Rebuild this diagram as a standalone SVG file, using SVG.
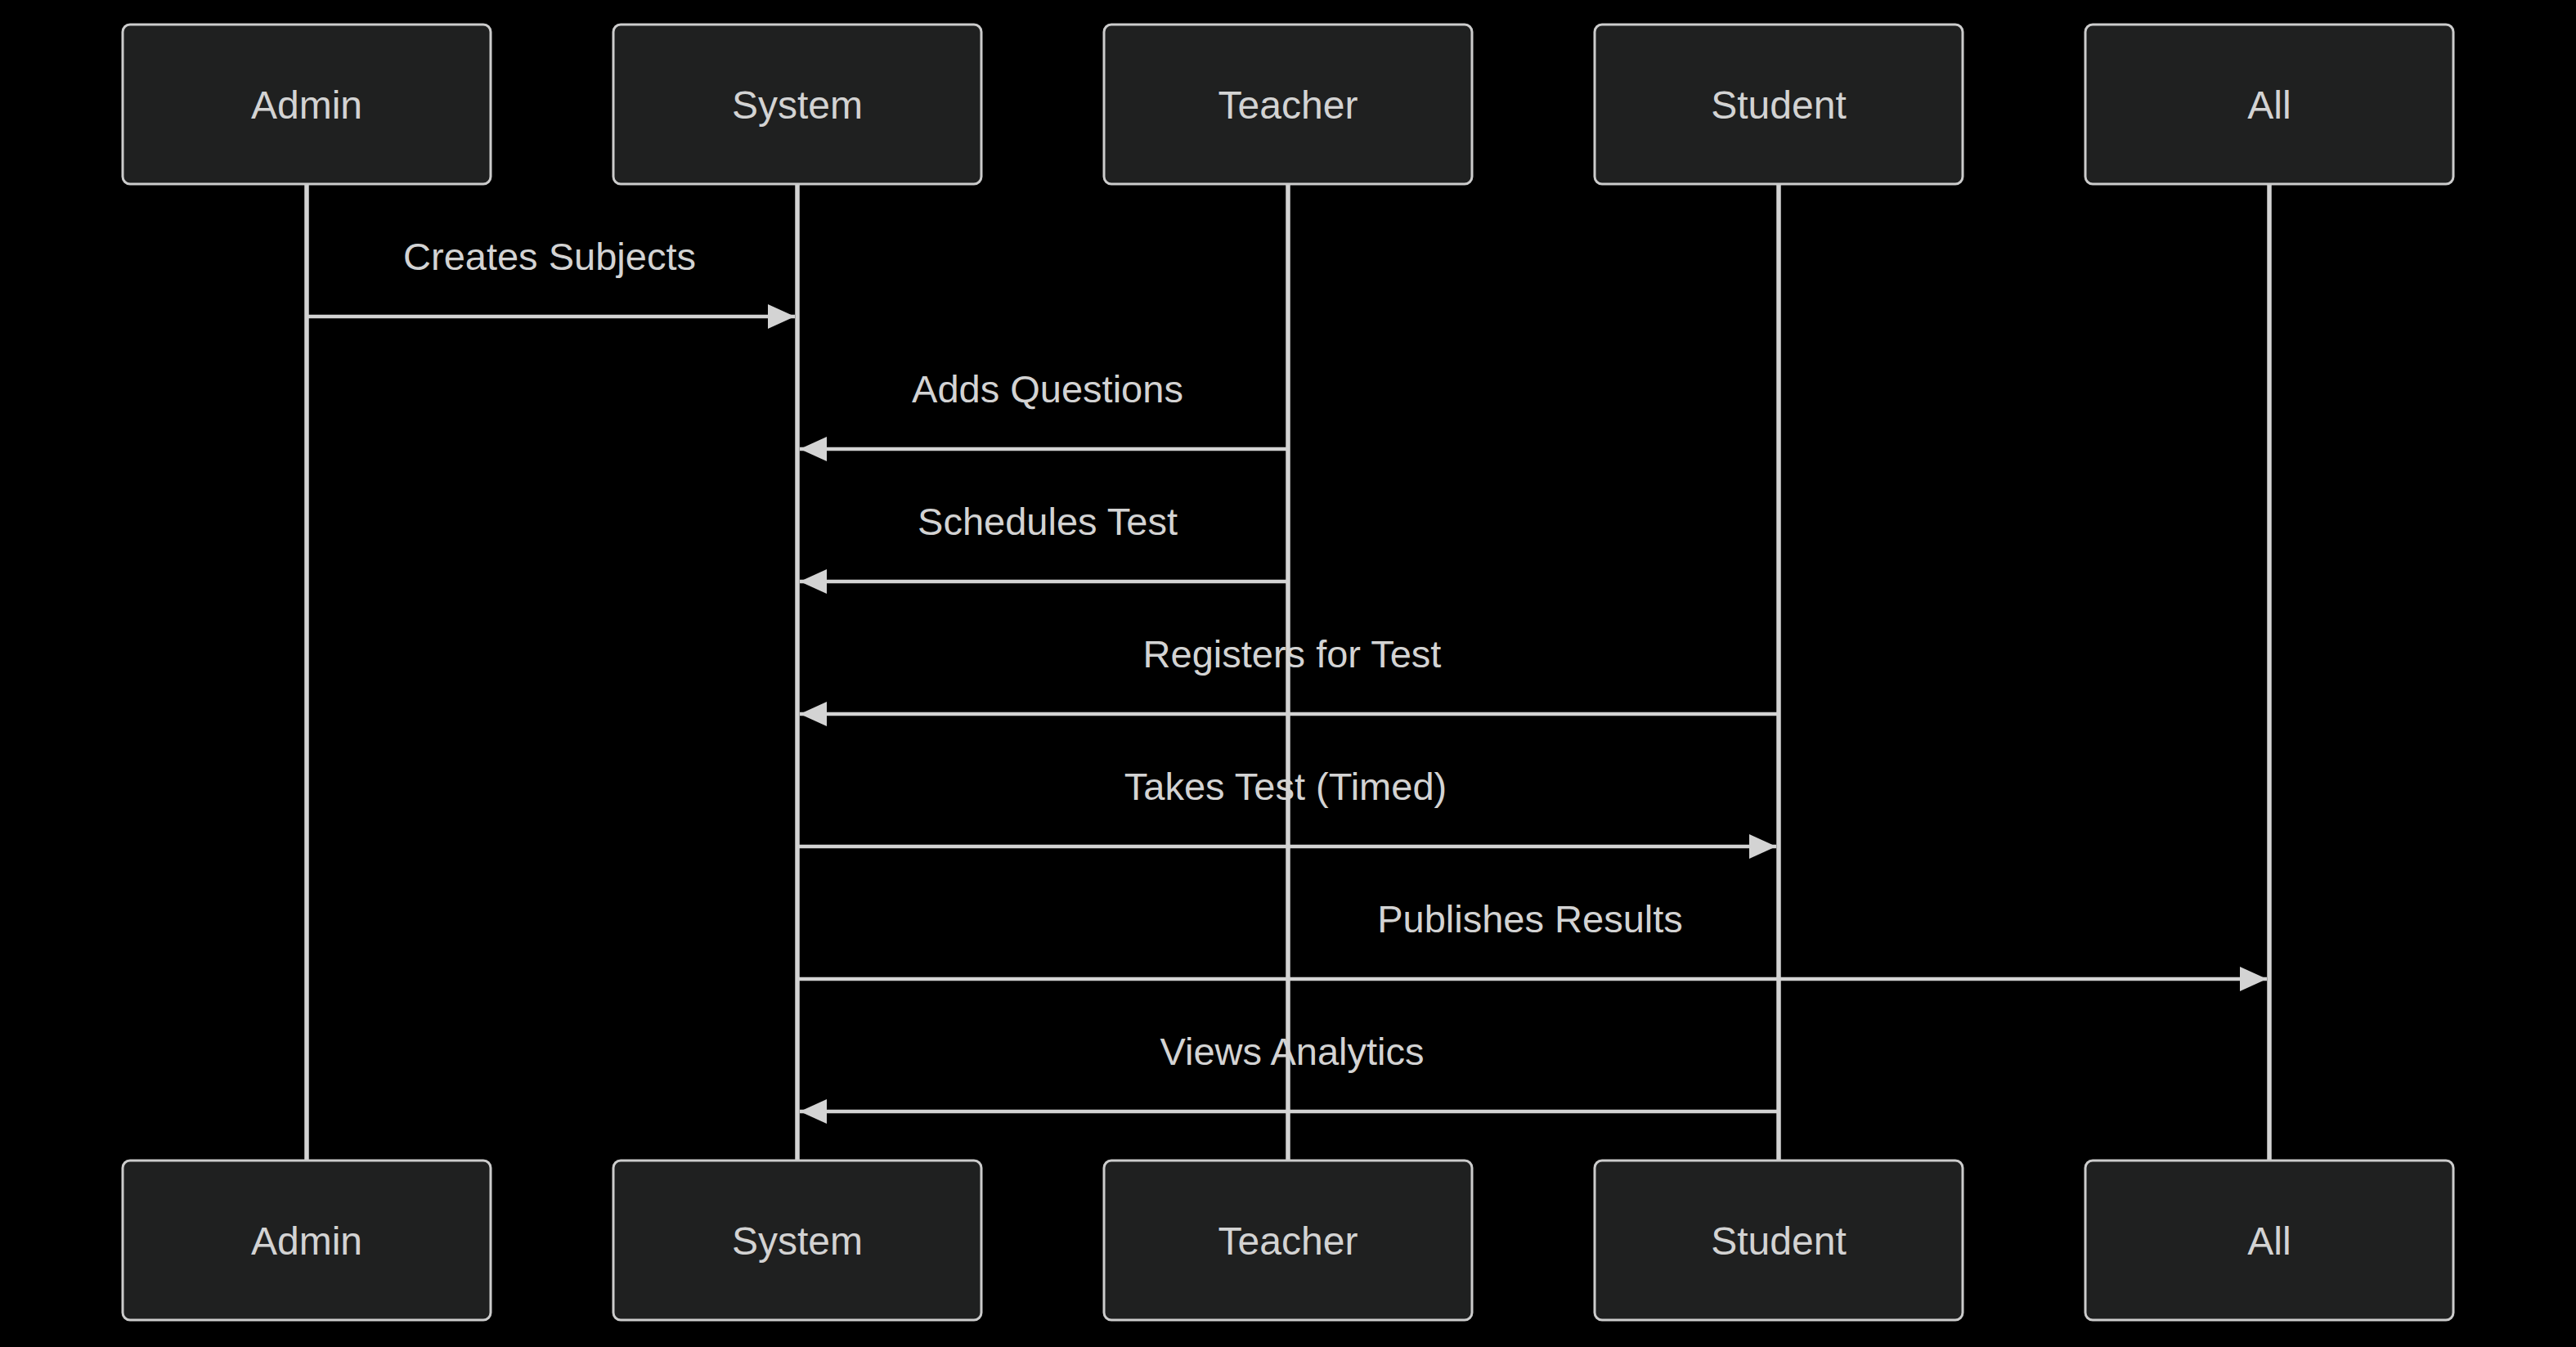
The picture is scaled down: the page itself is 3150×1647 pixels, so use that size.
<svg xmlns="http://www.w3.org/2000/svg" width="3150" height="1647" viewBox="0 0 3150 1647">
<style>
.actor rect{fill:#1f2020;stroke:#cccccc;stroke-width:3}
.actor text{fill:#d3d3d3;font-family:"Liberation Sans",Arial,sans-serif;font-size:48px;text-anchor:middle}
.lifeline{stroke:#d3d3d3;stroke-width:5.5}
.msg{stroke:#d3d3d3;stroke-width:4.5;fill:none;marker-end:url(#arrow)}
.msgtext{fill:#d3d3d3;font-family:"Liberation Sans",Arial,sans-serif;font-size:47px;text-anchor:middle}
</style>
<defs>
<marker id="arrow" viewBox="-1 0 11 10" refX="10" refY="5" markerWidth="33" markerHeight="30" markerUnits="userSpaceOnUse" orient="auto" preserveAspectRatio="none">
<path d="M -1 0 L 10 5 L -1 10 z" fill="#d3d3d3"/>
</marker>
</defs>
<rect x="0" y="0" width="3150" height="1647" fill="#000000"/>
<g id="messages">
<text class="msgtext" x="672" y="330">Creates Subjects</text>
<line class="msg" x1="375" y1="387" x2="972" y2="387"/>
<text class="msgtext" x="1281" y="492">Adds Questions</text>
<line class="msg" x1="1575" y1="549" x2="978" y2="549"/>
<text class="msgtext" x="1281" y="654">Schedules Test</text>
<line class="msg" x1="1575" y1="711" x2="978" y2="711"/>
<text class="msgtext" x="1580" y="816">Registers for Test</text>
<line class="msg" x1="2175" y1="873" x2="978" y2="873"/>
<text class="msgtext" x="1572" y="978">Takes Test (Timed)</text>
<line class="msg" x1="975" y1="1035" x2="2172" y2="1035"/>
<text class="msgtext" x="1871" y="1140">Publishes Results</text>
<line class="msg" x1="975" y1="1197" x2="2772" y2="1197"/>
<text class="msgtext" x="1580" y="1302">Views Analytics</text>
<line class="msg" x1="2175" y1="1359" x2="978" y2="1359"/>
</g>
<g id="lifelines">
<line class="lifeline" x1="375" y1="225" x2="375" y2="1419"/>
<line class="lifeline" x1="975" y1="225" x2="975" y2="1419"/>
<line class="lifeline" x1="1575" y1="225" x2="1575" y2="1419"/>
<line class="lifeline" x1="2175" y1="225" x2="2175" y2="1419"/>
<line class="lifeline" x1="2775" y1="225" x2="2775" y2="1419"/>
</g>
<g id="admin-top" class="actor"><rect x="150" y="30" width="450" height="195" rx="9" ry="9"/><text x="375" y="145">Admin</text></g>
<g id="system-top" class="actor"><rect x="750" y="30" width="450" height="195" rx="9" ry="9"/><text x="975" y="145">System</text></g>
<g id="teacher-top" class="actor"><rect x="1350" y="30" width="450" height="195" rx="9" ry="9"/><text x="1575" y="145">Teacher</text></g>
<g id="student-top" class="actor"><rect x="1950" y="30" width="450" height="195" rx="9" ry="9"/><text x="2175" y="145">Student</text></g>
<g id="all-top" class="actor"><rect x="2550" y="30" width="450" height="195" rx="9" ry="9"/><text x="2775" y="145">All</text></g>
<g id="admin-bottom" class="actor"><rect x="150" y="1419" width="450" height="195" rx="9" ry="9"/><text x="375" y="1534">Admin</text></g>
<g id="system-bottom" class="actor"><rect x="750" y="1419" width="450" height="195" rx="9" ry="9"/><text x="975" y="1534">System</text></g>
<g id="teacher-bottom" class="actor"><rect x="1350" y="1419" width="450" height="195" rx="9" ry="9"/><text x="1575" y="1534">Teacher</text></g>
<g id="student-bottom" class="actor"><rect x="1950" y="1419" width="450" height="195" rx="9" ry="9"/><text x="2175" y="1534">Student</text></g>
<g id="all-bottom" class="actor"><rect x="2550" y="1419" width="450" height="195" rx="9" ry="9"/><text x="2775" y="1534">All</text></g>
</svg>
